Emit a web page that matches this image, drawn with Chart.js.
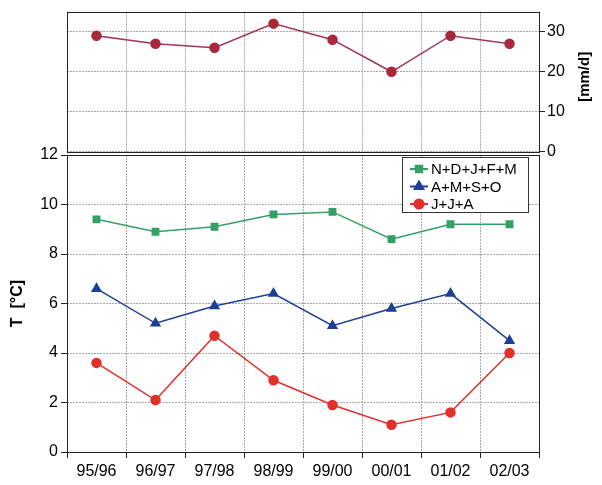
<!DOCTYPE html>
<html>
<head>
<meta charset="utf-8">
<script src="https://cdn.jsdelivr.net/npm/chart.js@4"></script>
<style>
  body { margin: 0; background: #fff; }
  #wrap { position: relative; width: 602px; height: 485px; }
  #wrap canvas { position: absolute; left: 0; top: 0; }
</style>
</head>
<body>
<div id="wrap">
  <canvas id="rain" width="602" height="485"></canvas>
  <canvas id="temp" width="602" height="485"></canvas>
</div>
<script>
const seasons = ['95/96', '96/97', '97/98', '98/99', '99/00', '00/01', '01/02', '02/03'];
const rain = [29, 27, 26, 32, 28, 20, 29, 27];
const winter = [9.4, 8.9, 9.1, 9.6, 9.7, 8.6, 9.2, 9.2];
const spring = [6.6, 5.2, 5.9, 6.4, 5.1, 5.8, 6.4, 4.5];
const summer = [3.6, 2.1, 4.7, 2.9, 1.9, 1.1, 1.6, 4.0];
const seriesNames = ['N+D+J+F+M', 'A+M+S+O', 'J+J+A'];

const font = { family: 'Liberation Sans, Arial, sans-serif', size: 16 };
const gridColor = '#a8a8a8';

// frame round the plot area
const boxPlugin = {
  id: 'box',
  afterDraw(chart) {
    const a = chart.chartArea, ctx = chart.ctx;
    ctx.save();
    ctx.strokeStyle = '#222';
    ctx.lineWidth = 1;
    ctx.strokeRect(Math.round(a.left) + 0.5, Math.round(a.top) + 0.5,
      Math.round(a.right - a.left), Math.round(a.bottom - a.top));
    ctx.restore();
  }
};

// unit label of the right axis, read bottom to top
const unitPlugin = {
  id: 'unit',
  afterDraw(chart) {
    const ctx = chart.ctx, a = chart.chartArea;
    ctx.save();
    ctx.translate(585, (a.top + a.bottom) / 2 - 5);
    ctx.rotate(-Math.PI / 2);
    ctx.font = 'bold 15px Liberation Sans, Arial, sans-serif';
    ctx.fillStyle = '#000';
    ctx.textAlign = 'center';
    ctx.textBaseline = 'middle';
    ctx.fillText('[mm/d]', 0, 0);
    ctx.restore();
  }
};

// legend box inside the lower panel
const legendPlugin = {
  id: 'boxLegend',
  afterDraw(chart) {
    const ctx = chart.ctx;
    const x = 402, y = 157, w = 126, h = 55;
    ctx.save();
    ctx.fillStyle = '#fff';
    ctx.fillRect(x, y, w, h);
    ctx.strokeStyle = '#333';
    ctx.lineWidth = 1;
    ctx.strokeRect(x + 0.5, y + 0.5, w, h);
    chart.data.datasets.forEach((ds, i) => {
      const cy = y + 12 + i * 17.5;
      ctx.strokeStyle = ds.borderColor;
      ctx.lineWidth = 2;
      ctx.beginPath();
      ctx.moveTo(x + 8, cy);
      ctx.lineTo(x + 26, cy);
      ctx.stroke();
      ctx.fillStyle = ds.pointBackgroundColor;
      ctx.strokeStyle = ds.pointBackgroundColor;
      Chart.helpers.drawPoint(ctx, {
        pointStyle: ds.pointStyle, radius: ds.pointRadius, borderWidth: 1
      }, x + 17, cy);
      ctx.fillStyle = '#000';
      ctx.font = '15px Liberation Sans, Arial, sans-serif';
      ctx.textBaseline = 'middle';
      ctx.fillText(seriesNames[i], x + 29, cy + 1);
    });
    ctx.restore();
  }
};

new Chart(document.getElementById('rain'), {
  type: 'line',
  data: {
    labels: seasons,
    datasets: [{
      data: rain,
      borderColor: '#a3335c',
      borderWidth: 1.5,
      pointBackgroundColor: '#a8283a',
      pointBorderColor: '#a8283a',
      pointRadius: 4.5,
      pointStyle: 'circle',
      tension: 0
    }]
  },
  options: {
    responsive: false,
    animation: false,
    events: [],
    layout: { padding: { left: 67, top: 8, right: 0, bottom: 485 - 152 } },
    plugins: { legend: { display: false }, tooltip: { enabled: false } },
    scales: {
      x: {
        offset: true,
        grid: { offset: true, color: gridColor, drawTicks: false },
        border: { display: false, dash: [2, 1] },
        ticks: { display: false },
        afterFit: s => { s.height = 0; }
      },
      y: {
        position: 'right',
        min: 0,
        max: 35,
        afterBuildTicks: s => { s.ticks = s.ticks.filter(t => t.value % 10 === 0); },
        ticks: { stepSize: 10, font: font, color: '#000', padding: 2 },
        grid: { color: gridColor, tickColor: '#222', tickLength: 6, tickBorderDash: [] },
        border: { display: false, dash: [2, 1] },
        afterFit: s => { s.width = 63; }
      }
    }
  },
  plugins: [boxPlugin, unitPlugin]
});

new Chart(document.getElementById('temp'), {
  type: 'line',
  data: {
    labels: seasons,
    datasets: [
      {
        data: winter, borderColor: '#35a066', borderWidth: 1.5,
        pointBackgroundColor: '#35a066', pointBorderColor: '#35a066',
        pointStyle: 'rect', pointRadius: 4.5, tension: 0
      },
      {
        data: spring, borderColor: '#1d3f95', borderWidth: 1.5,
        pointBackgroundColor: '#1d3f95', pointBorderColor: '#1d3f95',
        pointStyle: 'triangle', pointRadius: 5, tension: 0
      },
      {
        data: summer, borderColor: '#e0302a', borderWidth: 1.5,
        pointBackgroundColor: '#e0302a', pointBorderColor: '#e0302a',
        pointStyle: 'circle', pointRadius: 4.5, tension: 0
      }
    ]
  },
  options: {
    responsive: false,
    animation: false,
    events: [],
    layout: { padding: { left: 0, top: 155, right: 63, bottom: 0 } },
    plugins: { legend: { display: false }, tooltip: { enabled: false } },
    scales: {
      x: {
        offset: true,
        grid: { offset: true, color: gridColor, tickColor: '#222', tickLength: 6, tickBorderDash: [] },
        border: { display: false, dash: [2, 1] },
        ticks: { font: font, color: '#000', padding: 4, maxRotation: 0 },
        afterFit: s => { s.height = 485 - 452; }
      },
      y: {
        position: 'left',
        min: 0,
        max: 12,
        ticks: { stepSize: 2, font: font, color: '#000', padding: 3 },
        grid: { color: gridColor, tickColor: '#222', tickLength: 6, tickBorderDash: [] },
        border: { display: false, dash: [2, 1] },
        title: {
          display: true, text: 'T  [°C]', color: '#000',
          font: { family: font.family, size: 16, weight: 'bold' }, padding: { top: 8, bottom: 0 }
        },
        afterFit: s => { s.width = 67; }
      }
    }
  },
  plugins: [boxPlugin, legendPlugin]
});
</script>
</body>
</html>
